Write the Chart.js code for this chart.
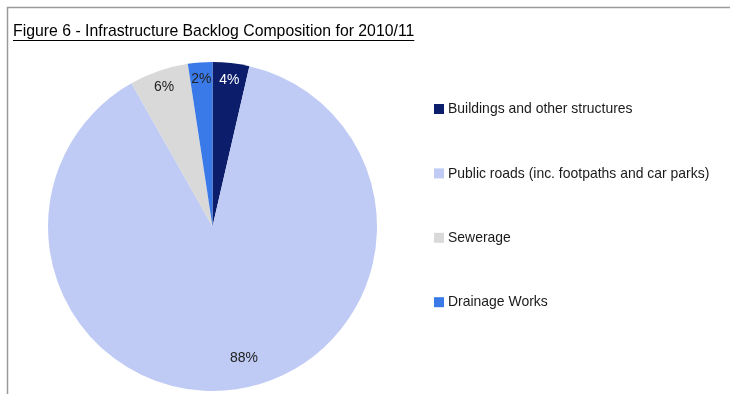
<!DOCTYPE html>
<html>
<head>
<meta charset="utf-8">
<script src="https://cdn.jsdelivr.net/npm/chart.js@4/dist/chart.umd.min.js"></script>
<style>
html,body{margin:0;padding:0;background:#fff;}
#wrap{position:relative;width:730px;height:394px;}
canvas{display:block;}
</style>
</head>
<body>
<div id="wrap"><canvas id="c" width="730" height="394"></canvas></div>
<script>
const titleText = "Figure 6 - Infrastructure Backlog Composition for 2010/11";
const categories = ["Buildings and other structures", "Public roads (inc. footpaths and car parks)", "Sewerage", "Drainage Works"];
const shares = [3.6, 88.2, 5.8, 2.4];
const sliceColors = ["#0c1e6b", "#bfcbf5", "#d9d9d9", "#3a79e8"];
const labelColors = ["#ffffff", "#222222", "#222222", "#222222"];

const FONT = '"Liberation Sans", Arial, sans-serif';
const SX = 0.93;

function drawText(ctx, txt, x, y, size, color, align, weight) {
  ctx.save();
  ctx.font = (weight || 'normal') + ' ' + size + 'px ' + FONT;
  ctx.fillStyle = color;
  ctx.textBaseline = 'middle';
  const w = ctx.measureText(txt).width * SX;
  let left = x;
  if (align === 'center') left = x - w / 2;
  ctx.translate(left, y);
  ctx.scale(SX, 1);
  ctx.textAlign = 'left';
  ctx.fillText(txt, 0, 0);
  ctx.restore();
  return w;
}

const decorPlugin = {
  id: 'decor',
  afterDraw(chart) {
    const ctx = chart.ctx;
    // frame lines (top and left)
    ctx.save();
    ctx.strokeStyle = '#9a9a9a';
    ctx.lineWidth = 1.5;
    ctx.beginPath();
    ctx.moveTo(730, 7.5); ctx.lineTo(7.5, 7.5); ctx.lineTo(7.5, 394);
    ctx.stroke();
    ctx.restore();

    // title with underline
    const tw = drawText(ctx, titleText, 13, 31.5, 17, '#000000', 'left', 'normal');
    ctx.save();
    ctx.strokeStyle = '#000';
    ctx.lineWidth = 1;
    ctx.beginPath();
    ctx.moveTo(13, 40.5); ctx.lineTo(13 + tw, 40.5);
    ctx.stroke();
    ctx.restore();

    // legend
    const lx = 434, ly0 = 109, step = 64.4;
    categories.forEach((name, i) => {
      const y = ly0 + i * step;
      ctx.fillStyle = sliceColors[i];
      ctx.fillRect(lx, y - 5, 10, 10);
      drawText(ctx, name, lx + 14, y, 15, '#1a1a1a', 'left');
    });

    // data labels
    const meta = chart.getDatasetMeta(0);
    const total = shares.reduce((a, b) => a + b, 0);
    meta.data.forEach((arc, i) => {
      const p = arc.getProps(['x', 'y', 'startAngle', 'endAngle', 'outerRadius'], true);
      const mid = (p.startAngle + p.endAngle) / 2;
      const frac = shares[i] / total;
      const big = frac > 0.5;
      const rf = big ? 0.82 : 0.9;
      const ang = big ? mid - 0.09 : mid;
      const x = p.x + Math.cos(ang) * p.outerRadius * rf;
      const y = p.y + Math.sin(ang) * p.outerRadius * rf;
      drawText(ctx, Math.round(frac * 100) + '%', x, y, 15, labelColors[i], 'center');
    });
  }
};

new Chart(document.getElementById('c'), {
  type: 'pie',
  data: {
    labels: categories,
    datasets: [{
      data: shares,
      backgroundColor: sliceColors,
      borderWidth: 0,
      hoverOffset: 0,
      offset: 0
    }]
  },
  options: {
    responsive: false,
    animation: false,
    events: [],
    layout: { padding: { left: 48, right: 353, top: 62, bottom: 3 } },
    plugins: {
      legend: { display: false },
      title: { display: false },
      tooltip: { enabled: false }
    }
  },
  plugins: [decorPlugin]
});
</script>
</body>
</html>
